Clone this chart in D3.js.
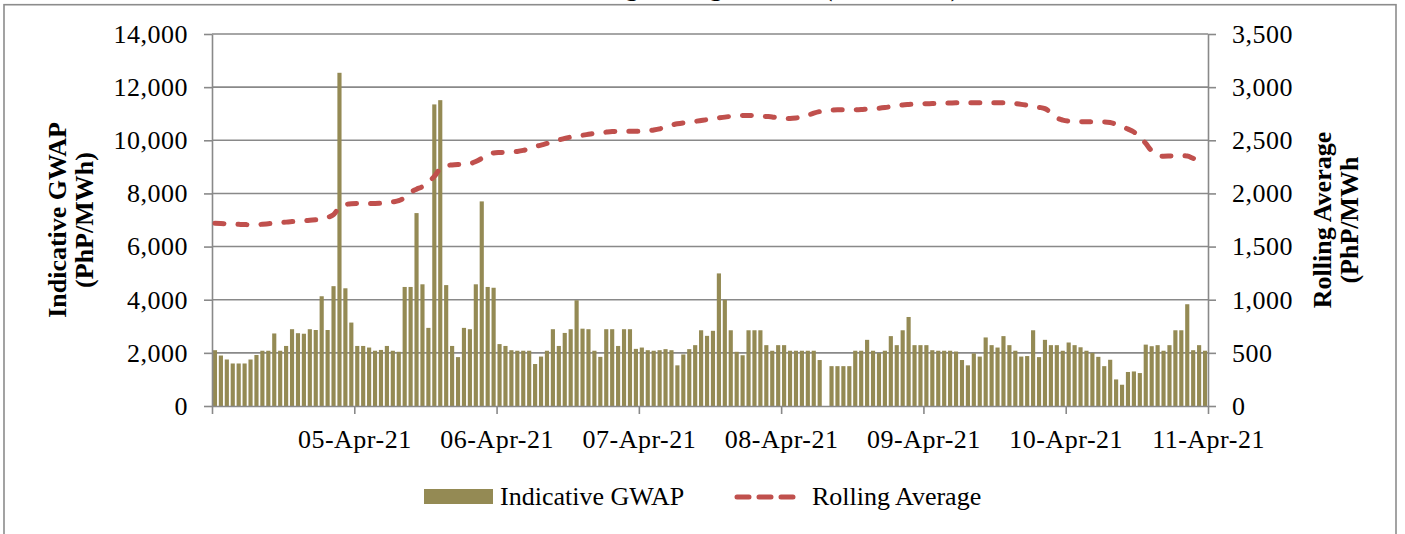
<!DOCTYPE html>
<meta charset="utf-8">
<body style="margin:0;background:#fff">
<style>
svg {
  display: block;
  font-family: "Liberation Serif", "Times New Roman", serif;
}
.tick text {
  font-family: "Liberation Serif", "Times New Roman", serif;
  font-size: 26px;
  fill: #000;
  letter-spacing: 0.5px;
}
.axis path, .axis line {
  stroke: #898989;
  stroke-width: 1.6px;
}
.grid {
  stroke: #898989;
  stroke-width: 1.6px;
}
.atitle {
  font-size: 26px;
  font-weight: bold;
  text-anchor: middle;
}
.legend text {
  font-size: 26px;
}
</style>
<script src="https://d3js.org/d3.v7.min.js"></script>
<script>

// one label per day, hourly data (24 values per day)
var days = ["04-Apr-21", "05-Apr-21", "06-Apr-21", "07-Apr-21", "08-Apr-21", "09-Apr-21", "10-Apr-21", "11-Apr-21"];

var gwap = [
  2100, 1900, 1750, 1600, 1600, 1600, 1750, 1920, 2080, 2080, 2730, 2080,
  2260, 2890, 2740, 2720, 2890, 2860, 4130, 2860, 4510, 12540, 4430, 3140,
  2260, 2260, 2200, 2080, 2110, 2260, 2080, 2040, 4480, 4480, 7260, 4580,
  2940, 11350, 11510, 4550, 2260, 1840, 2940, 2890, 4580, 7700, 4480, 4450,
  2330, 2260, 2100, 2080, 2080, 2080, 1580, 1860, 2080, 2890, 2260, 2750,
  2890, 3980, 2910, 2890, 2080, 1850, 2890, 2890, 2260, 2890, 2890, 2150,
  2200, 2100, 2080, 2100, 2140, 2100, 1530, 1940, 2140, 2290, 2850, 2640,
  2830, 4990, 4000, 2850, 2040, 1910, 2850, 2850, 2850, 2290, 2080, 2290,
  2290, 2080, 2080, 2080, 2080, 2080, 1730, null, 1500, 1500, 1500, 1500,
  2080, 2080, 2490, 2080, 2000, 2080, 2630, 2290, 2850, 3350, 2290, 2290,
  2290, 2100, 2080, 2080, 2080, 2050, 1730, 1530, 1980, 1860, 2580, 2290,
  2200, 2630, 2290, 2080, 1860, 1880, 2850, 1840, 2490, 2290, 2290, 2080,
  2390, 2290, 2210, 2080, 2000, 1850, 1500, 1740, 1000, 800, 1280, 1300,
  1240, 2310, 2250, 2290, 2080, 2290, 2850, 2850, 3830, 2100, 2290, 2080
];

var rollingAvg = [
  1719, 1717, 1714, 1711, 1709, 1707, 1706, 1706, 1710, 1715, 1720, 1725,
  1730, 1735, 1738, 1742, 1747, 1752, 1758, 1775, 1800, 1870, 1895, 1903,
  1905, 1905, 1906, 1906, 1908, 1912, 1920, 1932, 1960, 2010, 2040, 2065,
  2110, 2160, 2235, 2262, 2268, 2272, 2275, 2280, 2300, 2330, 2365, 2381,
  2385, 2387, 2390, 2395, 2405, 2420, 2440, 2455, 2470, 2488, 2503, 2518,
  2530, 2540, 2548, 2556, 2564, 2571, 2577, 2582, 2584, 2584, 2584, 2584,
  2586, 2590, 2597, 2608, 2625, 2642, 2655, 2664, 2670, 2678, 2686, 2694,
  2703, 2711, 2718, 2725, 2730, 2733, 2734, 2732, 2728, 2724, 2720, 2710,
  2704, 2705, 2710, 2718, 2735, 2755, 2770, 2778, 2784, 2787, 2787, 2787,
  2787, 2789, 2794, 2798, 2802, 2808, 2816, 2825, 2833, 2837, 2840, 2842,
  2844, 2845, 2847, 2849, 2851, 2853, 2853, 2853, 2853, 2853, 2853, 2853,
  2853, 2853, 2853, 2846, 2838, 2830, 2820, 2810, 2798, 2760, 2712, 2690,
  2680, 2677, 2675, 2674, 2673, 2672, 2672, 2668, 2650, 2630, 2605, 2578,
  2530, 2470, 2400, 2360, 2350, 2352, 2355, 2356, 2352, 2330, 2310, 2285
];

var leftTicks = [0, 2000, 4000, 6000, 8000, 10000, 12000, 14000];
var rightTicks = [0, 500, 1000, 1500, 2000, 2500, 3000, 3500];

var width = 1405, height = 534;
var plotL = 212, plotR = 1208, plotT = 34, plotB = 406;

var svg = d3.select("body").append("svg")
    .attr("width", width)
    .attr("height", height);

// chart frame
svg.append("rect")
    .attr("x", 4).attr("y", 4.7)
    .attr("width", 1392).attr("height", 560)
    .attr("fill", "none")
    .attr("stroke", "#8c8c8c")
    .attr("stroke-width", 1.6);

// title (mostly cut off at the top in the source)
svg.append("text")
    .attr("x", 634).attr("y", -4)
    .attr("class", "atitle")
    .text("Indicative GWAP and Rolling Average GWAP (PhP/MWh)");

var x = d3.scaleBand()
    .domain(d3.range(gwap.length))
    .range([plotL, plotR])
    .paddingInner(0.3)
    .paddingOuter(0.15);

var parseDay = d3.timeParse("%d-%b-%y");
var xt = d3.scaleTime()
    .domain([parseDay(days[0]), parseDay(days[days.length - 1])])
    .range([plotL, plotR]);

var yL = d3.scaleLinear().domain([0, 14000]).range([plotB, plotT]);
var yR = d3.scaleLinear().domain([0, 3500]).range([plotB, plotT]);

// gridlines
svg.append("g").selectAll("line")
  .data(leftTicks.slice(1))
  .enter().append("line")
    .attr("class", "grid")
    .attr("x1", plotL).attr("x2", plotR)
    .attr("y1", function(d) { return yL(d); })
    .attr("y2", function(d) { return yL(d); });

// bars
svg.append("g").selectAll("rect")
  .data(gwap.map(function(v, i) { return {i: i, v: v}; }).filter(function(d) { return d.v != null; }))
  .enter().append("rect")
    .attr("x", function(d) { return x(d.i); })
    .attr("width", x.bandwidth())
    .attr("y", function(d) { return yL(d.v); })
    .attr("height", function(d) { return plotB - yL(d.v); })
    .attr("fill", "#948A54");

// axes
svg.append("g").attr("class", "axis")
    .attr("transform", "translate(0," + plotB + ")")
    .call(d3.axisBottom(xt)
      .tickValues(days.map(parseDay))
      .tickSize(8).tickSizeOuter(0).tickPadding(16)
      .tickFormat(function(d, i) { return i == 0 ? "" : days[i]; }));

svg.append("g").attr("class", "axis")
    .attr("transform", "translate(" + plotL + ",0)")
    .call(d3.axisLeft(yL)
      .tickValues(leftTicks)
      .tickSize(8).tickSizeOuter(0).tickPadding(16)
      .tickFormat(d3.format(",")));

svg.append("g").attr("class", "axis")
    .attr("transform", "translate(" + plotR + ",0)")
    .call(d3.axisRight(yR)
      .tickValues(rightTicks)
      .tickSize(8).tickSizeOuter(0).tickPadding(16)
      .tickFormat(d3.format(",")));

// rolling average line
var line = d3.line()
    .x(function(d, i) { return x(i) + x.bandwidth() / 2; })
    .y(function(d) { return yR(d); })
    .curve(d3.curveMonotoneX);

svg.append("path")
    .datum(rollingAvg)
    .attr("d", line)
    .attr("fill", "none")
    .attr("stroke", "#C0504D")
    .attr("stroke-width", 5)
    .attr("stroke-linecap", "round")
    .attr("stroke-dasharray", "9,14");

// axis titles
svg.append("text").attr("class", "atitle")
    .attr("transform", "translate(66,220) rotate(-90)")
    .text("Indicative GWAP");
svg.append("text").attr("class", "atitle")
    .attr("transform", "translate(93,220) rotate(-90)")
    .text("(PhP/MWh)");
svg.append("text").attr("class", "atitle")
    .attr("transform", "translate(1331,220) rotate(-90)")
    .text("Rolling Average");
svg.append("text").attr("class", "atitle")
    .attr("transform", "translate(1358,220) rotate(-90)")
    .text("(PhP/MWh");

// legend
var lg = svg.append("g").attr("class", "legend");
lg.append("rect")
    .attr("x", 424).attr("y", 489)
    .attr("width", 69).attr("height", 15)
    .attr("fill", "#948A54");
lg.append("text").attr("x", 500).attr("y", 505).text("Indicative GWAP");
lg.append("line")
    .attr("x1", 737).attr("x2", 796)
    .attr("y1", 497).attr("y2", 497)
    .attr("stroke", "#C0504D")
    .attr("stroke-width", 5)
    .attr("stroke-linecap", "round")
    .attr("stroke-dasharray", "12,10");
lg.append("text").attr("x", 812).attr("y", 505).text("Rolling Average");

</script>
</body>
